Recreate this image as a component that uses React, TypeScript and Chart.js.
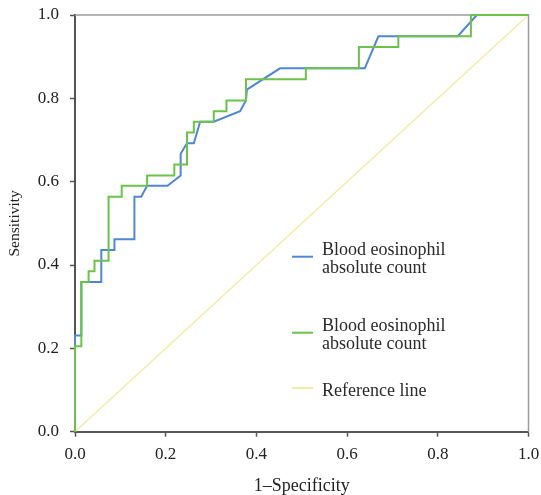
import React, { useEffect, useRef } from "react";
import { Chart, registerables } from "chart.js";
Chart.register(...registerables);

const xTickValues = [0, 0.2, 0.4, 0.6, 0.8, 1.0];
const yTickValues = [0, 0.2, 0.4, 0.6, 0.8, 1.0];

const blueX = [0, 0, 0.014, 0.014, 0.058, 0.058, 0.087, 0.087, 0.131, 0.131, 0.146, 0.159, 0.204, 0.233, 0.233, 0.247, 0.262, 0.276, 0.306, 0.364, 0.377, 0.379, 0.452, 0.639, 0.669, 0.844, 0.886, 1];
const blueY = [0, 0.231, 0.231, 0.359, 0.359, 0.436, 0.436, 0.462, 0.462, 0.564, 0.564, 0.59, 0.59, 0.615, 0.667, 0.692, 0.692, 0.744, 0.744, 0.769, 0.795, 0.821, 0.872, 0.872, 0.949, 0.949, 1, 1];

const greenX = [0, 0, 0.014, 0.014, 0.03, 0.03, 0.043, 0.043, 0.074, 0.074, 0.103, 0.103, 0.159, 0.159, 0.219, 0.219, 0.247, 0.247, 0.262, 0.262, 0.306, 0.306, 0.334, 0.334, 0.377, 0.377, 0.509, 0.509, 0.626, 0.626, 0.713, 0.713, 0.873, 0.873, 1];
const greenY = [0, 0.205, 0.205, 0.359, 0.359, 0.385, 0.385, 0.41, 0.41, 0.564, 0.564, 0.59, 0.59, 0.615, 0.615, 0.641, 0.641, 0.718, 0.718, 0.744, 0.744, 0.769, 0.769, 0.795, 0.795, 0.846, 0.846, 0.872, 0.872, 0.923, 0.923, 0.949, 0.949, 1, 1];

const refX = [0, 1];
const refY = [0, 1];

const seriesLabels = [
  ["Blood eosinophil", "absolute count"],
  ["Blood eosinophil", "absolute count"],
  ["Reference line"],
];

const BLUE = "#4f86d6";
const GREEN = "#6cc24a";
const YELLOW = "#f1eda6";
const AXIS = "#555555";
const SERIF = "'Liberation Serif', 'Times New Roman', serif";

const zip = (xs: number[], ys: number[]) => xs.map((x, i) => ({ x, y: ys[i] }));

export default function App() {
  const ref = useRef<HTMLCanvasElement>(null);
  useEffect(() => {
    if (!ref.current) return;
    const framePlugin = {
      id: "frameTR",
      beforeDatasetsDraw(chart: any) {
        const { ctx, chartArea: a } = chart;
        ctx.save();
        ctx.strokeStyle = "#9c9c9c";
        ctx.lineWidth = 1.5;
        ctx.beginPath();
        ctx.moveTo(a.left, a.top);
        ctx.lineTo(a.right, a.top);
        ctx.lineTo(a.right, a.bottom);
        ctx.stroke();
        ctx.restore();
      },
    };
    const legendPlugin = {
      id: "legendInside",
      afterDraw(chart: any) {
        const { ctx, chartArea: a } = chart;
        const colors = [BLUE, GREEN, YELLOW];
        const sampleY = [241.7, 317.7, 373];
        const baseY = [239.5, 316, 381];
        ctx.save();
        ctx.font = `18px ${SERIF}`;
        ctx.fillStyle = "#2a2a2a";
        ctx.textBaseline = "alphabetic";
        ctx.textAlign = "left";
        seriesLabels.forEach((lines, i) => {
          ctx.strokeStyle = colors[i];
          ctx.lineWidth = 2;
          ctx.beginPath();
          ctx.moveTo(a.left + 217, a.top + sampleY[i]);
          ctx.lineTo(a.left + 238, a.top + sampleY[i]);
          ctx.stroke();
          lines.forEach((t, j) => {
            ctx.fillText(t, a.left + 247, a.top + baseY[i] + j * 18);
          });
        });
        ctx.restore();
      },
    };
    const chart = new Chart(ref.current, {
      type: "scatter",
      data: {
        datasets: [
          { label: "Reference line", data: zip(refX, refY), showLine: true, borderColor: YELLOW, borderWidth: 1.5, pointRadius: 0, order: 3, clip: 3 },
          { label: "Blood eosinophil absolute count", data: zip(blueX, blueY), showLine: true, borderColor: BLUE, borderWidth: 2, pointRadius: 0, order: 2, clip: 3 },
          { label: "Blood eosinophil absolute count", data: zip(greenX, greenY), showLine: true, borderColor: GREEN, borderWidth: 2, pointRadius: 0, order: 1, clip: 3 },
        ],
      },
      options: {
        responsive: false,
        animation: false,
        layout: { padding: { top: 15, right: 12.5, left: 0, bottom: 0 } },
        plugins: { legend: { display: false }, tooltip: { enabled: false } },
        scales: {
          x: {
            type: "linear",
            min: 0,
            max: 1,
            afterBuildTicks: (s: any) => { s.ticks = xTickValues.map((v) => ({ value: v })); },
            afterFit: (s: any) => { s.height = 63.3; s.paddingLeft = 0; s.paddingRight = 0; },
            ticks: { callback: (v: any) => Number(v).toFixed(1), font: { family: SERIF, size: 17 }, color: "#222", padding: 8, maxRotation: 0 },
            grid: { drawOnChartArea: false, drawTicks: true, tickLength: 5, tickColor: AXIS, tickWidth: 1.5 },
            border: { color: AXIS, width: 2 },
            title: { display: true, text: "1–Specificity", font: { family: SERIF, size: 18, lineHeight: 1 }, color: "#222", padding: { top: 0, bottom: 0 } },
          },
          y: {
            type: "linear",
            min: 0,
            max: 1,
            afterBuildTicks: (s: any) => { s.ticks = yTickValues.map((v) => ({ value: v })); },
            afterFit: (s: any) => { s.width = 75; s.paddingTop = 0; s.paddingBottom = 0; },
            ticks: { callback: (v: any) => Number(v).toFixed(1), font: { family: SERIF, size: 17 }, color: "#222", padding: 11 },
            grid: { drawOnChartArea: false, drawTicks: true, tickLength: 5, tickColor: AXIS, tickWidth: 1.5 },
            border: { color: AXIS, width: 2 },
            title: { display: true, text: "Sensitivity", font: { family: SERIF, size: 15.5, lineHeight: 1.2 }, color: "#222", padding: { top: 6, bottom: 0 } },
          },
        },
      },
      plugins: [framePlugin, legendPlugin],
    } as any);
    return () => chart.destroy();
  }, []);
  return (
    <div style={{ position: "absolute", left: 0, top: 0, width: 541, height: 495 }}>
      <canvas ref={ref} width={541} height={495} style={{ display: "block" }} />
    </div>
  );
}
